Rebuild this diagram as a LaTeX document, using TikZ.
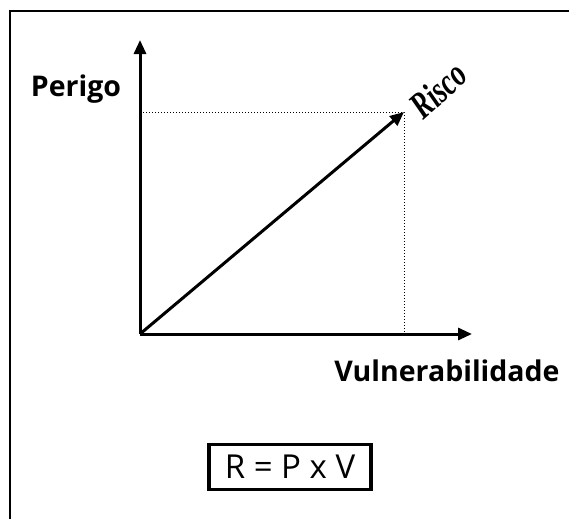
\documentclass[tikz,border=0pt]{standalone}
\usepackage{fontspec}
\setmainfont{Open Sans}
\newfontfamily\riscofont{Liberation Serif}
\usetikzlibrary{arrows.meta}
\begin{document}
\begin{tikzpicture}[x=1pt,y=-1pt,
  axis/.style={line width=3pt,-{Triangle[length=14pt,width=12pt]}},
  guide/.style={line width=1pt,dotted},
  lbl/.style={font=\fontsize{28.5}{32}\selectfont\bfseries,inner sep=0pt}]
\useasboundingbox (0,0) rectangle (569,519);
\draw[line width=1.2pt] (10,519) -- (10,11) -- (569,11);
\coordinate (O) at (140,334);
\coordinate (Ytop) at (140,40);
\coordinate (Xend) at (472,334);
\coordinate (R) at (404,112);
\coordinate (Ry) at (140,112);
\coordinate (Rx) at (404,334);
\draw[guide] (Ry) -- (R) -- (Rx);
\draw[axis] (O) -- (Ytop);
\draw[axis] (O) -- (Xend);
\draw[axis] (O) -- (R);
\node[lbl] (perigo) at (76,89) {Perigo};
\node[lbl] (vuln) at (447,371) {Vulnerabilidade};
\node[inner sep=0pt,rotate=42,font=\riscofont\fontsize{38}{42}\selectfont\bfseries\itshape] (risco) at (438,90) {\scalebox{0.72}[1]{Risco}};
\node[draw,line width=3.5pt,minimum width=162pt,minimum height=45pt,inner sep=0pt,font=\fontsize{33}{36}\selectfont] (eq) at (290,467) {R = P x V};
\end{tikzpicture}
\end{document}
